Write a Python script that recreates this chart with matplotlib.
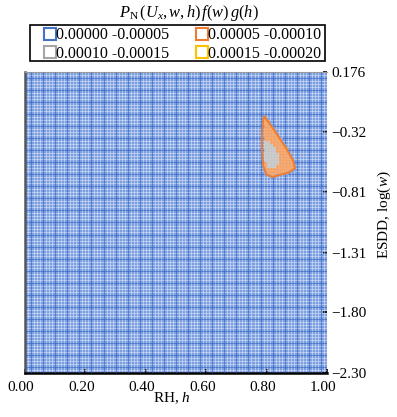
import numpy as np
import matplotlib; matplotlib.use("Agg")
import matplotlib.pyplot as plt
from matplotlib.colors import ListedColormap, BoundaryNorm
from matplotlib.collections import LineCollection
from matplotlib.lines import Line2D
from matplotlib.patches import Rectangle
from matplotlib.path import Path
from matplotlib.transforms import ScaledTranslation

plt.rcParams["font.family"] = ["Liberation Serif", "DejaVu Serif"]
plt.rcParams["mathtext.fontset"] = "custom"
plt.rcParams["mathtext.rm"] = "Liberation Serif"
plt.rcParams["mathtext.it"] = "Liberation Serif:italic"

# value bins of the surface
bin_labels = ["0.00000 -0.00005", "0.00005 -0.00010", "0.00010 -0.00015", "0.00015 -0.00020"]
bin_colors = ["#4472c4", "#ed7d31", "#a5a5a5", "#ffc000"]
fill_colors = ["#7b9ee0", "#f39f62", "#c4c4c4", "#ffd966"]

# axes
h_ticks = [0.0, 0.2, 0.4, 0.6, 0.8, 1.0]
logw_ticks = [-2.30, -1.80, -1.31, -0.81, -0.32, 0.176]
logw_labels = ["\u22122.30", "\u22121.80", "\u22121.31", "\u22120.81", "\u22120.32", "0.176"]

# outline of the 0.00005-0.00010 band (h, log w)
band1_h = [0.791, 0.811, 0.838, 0.864, 0.887, 0.894, 0.877, 0.844, 0.818, 0.798, 0.788, 0.785, 0.785, 0.788]
band1_w = [-0.186, -0.252, -0.350, -0.449, -0.548, -0.614, -0.647, -0.671, -0.688, -0.663, -0.589, -0.466, -0.342, -0.235]
# outline of the 0.00010-0.00015 band
band2_h = [0.795, 0.818, 0.834, 0.838, 0.834, 0.818, 0.798, 0.791]
band2_w = [-0.383, -0.433, -0.474, -0.548, -0.597, -0.630, -0.605, -0.507]

N_H, N_W = 100, 100
W_MIN, W_MAX = -2.30, 0.176

fig = plt.figure(figsize=(3.97, 4.17), dpi=100)
ax = fig.add_axes([25/397, 1 - 373/417, 302/397, 301/417])

# surface mesh: each cell gets the band its centre falls in
he = np.linspace(0, 1, N_H + 1)
we = np.linspace(W_MIN, W_MAX, N_W + 1)
hc = 0.5 * (he[:-1] + he[1:])
wc = 0.5 * (we[:-1] + we[1:])
HC, WC = np.meshgrid(hc, wc)
pts = np.column_stack([HC.ravel(), WC.ravel()])
level = np.zeros(HC.shape, dtype=int)
for k, (bh, bw) in enumerate([(band1_h, band1_w), (band2_h, band2_w)], start=1):
    inside = Path(np.column_stack([bh, bw])).contains_points(pts).reshape(HC.shape)
    level[inside] = k

ax.pcolormesh(he, we, level, cmap=ListedColormap(fill_colors[:3]),
              norm=BoundaryNorm([-0.5, 0.5, 1.5, 2.5], 3), linewidth=0, zorder=1)

# wireframe: white over the flat part, pale over the bands, darker blue every 4th line
flat, raised, dark = [], [], []
for i in range(1, N_H):
    for j in range(N_W):
        seg = [(he[i], we[j]), (he[i], we[j + 1])]
        if level[j, i - 1] == 0 and level[j, i] == 0:
            (dark if i % 4 == 2 else flat).append(seg)
        else:
            raised.append(seg)
for j in range(1, N_W):
    for i in range(N_H):
        seg = [(he[i], we[j]), (he[i + 1], we[j])]
        if level[j - 1, i] == 0 and level[j, i] == 0:
            (dark if j % 4 == 2 else flat).append(seg)
        else:
            raised.append(seg)
ax.add_collection(LineCollection(flat, colors="white", linewidths=0.4, alpha=0.75, zorder=2))
ax.add_collection(LineCollection(raised, colors="white", linewidths=0.3, alpha=0.35, zorder=2))
ax.add_collection(LineCollection(dark, colors="#3766c4", linewidths=0.6, alpha=0.8, zorder=3))
ax.fill(band1_h, band1_w, facecolor="none", edgecolor=bin_colors[1], lw=1.4, zorder=4)

ax.set_xlim(0, 1)
ax.set_ylim(W_MIN, W_MAX)
ax.set_xticks(h_ticks)
ax.set_xticklabels(["%.2f" % v for v in h_ticks])
ax.yaxis.tick_right()
ax.set_yticks(logw_ticks)
ax.set_yticklabels(logw_labels)
ax.tick_params(axis="both", direction="in", length=3, width=1.2, color="black",
               labelsize=11, pad=3)
ax.tick_params(axis="x", pad=6)
for lab in ax.get_xticklabels():
    lab.set_transform(lab.get_transform() + ScaledTranslation(-4/100, 0, fig.dpi_scale_trans))

ax.spines["right"].set_visible(False)
ax.spines["top"].set_color("#9a9a9a")
ax.spines["top"].set_linewidth(0.8)
ax.spines["left"].set_color("#555555")
ax.spines["left"].set_linewidth(1.8)
ax.spines["bottom"].set_color("black")
ax.spines["bottom"].set_linewidth(1.8)

fig.text(172/397, 1 - 398/417, r"RH, $\mathit{h}$", ha="center", va="center", fontsize=11)
fig.text(384/397, 1 - 215/417, r"ESDD, log$(\mathit{w})$", ha="center", va="center",
         rotation=90, fontsize=11)
fig.text(189/397, 1 - 13/417, r"$P_{\mathrm{N}}\,(U_x,w,h)\,f(w)\,g(h)$", ha="center",
         va="center", fontsize=11.8)

# legend box
fig.add_artist(Rectangle((30/397, 1 - 61/417), 295/397, 36/417, transform=fig.transFigure,
                         facecolor="white", edgecolor="black", lw=1.2))
handles = [Line2D([], [], ls="none", marker="s", markersize=8, markerfacecolor="white",
                  markeredgecolor=c, markeredgewidth=1.5) for c in bin_colors]
order = [0, 2, 1, 3]
fig.legend([handles[i] for i in order], [bin_labels[i] for i in order], ncol=2,
           loc="center left", bbox_to_anchor=(45.5/397, 1 - 44.5/417), borderaxespad=0,
           fontsize=11.5, frameon=False, handlelength=0.55, handletextpad=0.1,
           labelspacing=0.15, borderpad=0, columnspacing=1.8)

fig.savefig("out.png", dpi=100)
